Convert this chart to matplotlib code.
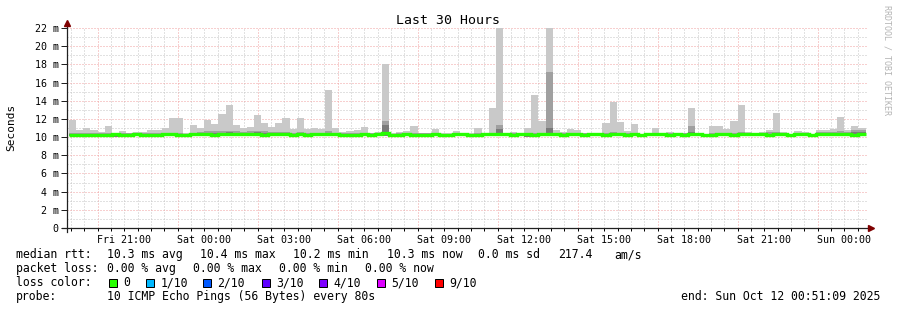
import matplotlib
matplotlib.use("Agg")
import matplotlib.pyplot as plt
import numpy as np
from matplotlib.patches import Rectangle

W, H = 897, 310
plt.rcParams["font.family"] = ["DejaVu Sans Mono", "DejaVu Sans"]

# time axis in hours relative to Sat 00:00
T_START = -(5 + 8 / 60 + 51 / 3600)   # Fri 18:51:09
T_END = 24 + 51 / 60 + 9 / 3600       # Sun 00:51:09
FIRST_BAR = -(5 + 4 / 60)             # first 16 min consolidation step, Fri 18:56
STEP = 16 / 60

# smoke envelope per 16 min step (ms)
rtt_max = [
    11.9, 10.8, 11.0, 10.8, 10.6, 11.2, 10.5, 10.7, 10.5, 10.6,
    10.6, 10.8, 10.8, 11.0, 12.1, 12.1, 10.4, 11.3, 11.0, 11.9,
    11.4, 12.5, 13.5, 11.3, 11.0, 11.1, 12.4, 11.5, 11.1, 11.6,
    12.1, 10.9, 12.1, 10.9, 11.0, 10.9, 15.2, 11.0, 10.6, 10.7,
    10.8, 11.1, 10.5, 10.6, 18.0, 10.4, 10.6, 10.7, 11.2, 10.5,
    10.5, 10.9, 10.4, 10.4, 10.7, 10.5, 10.4, 11.0, 10.5, 13.2,
    22.5, 10.5, 10.6, 10.5, 11.0, 14.6, 11.8, 22.5, 10.8, 10.6,
    10.9, 10.8, 10.5, 10.4, 10.5, 11.6, 13.9, 11.7, 10.7, 11.4,
    10.3, 10.5, 11.0, 10.4, 10.6, 10.5, 10.5, 13.2, 10.4, 10.3,
    11.25, 11.25, 10.9, 11.8, 13.5, 10.6, 10.4, 10.6, 10.8, 12.7,
    10.6, 10.3, 10.7, 10.6, 10.3, 10.8, 10.8, 10.9, 12.25, 10.8,
    11.2, 11.0,
]
rtt_hi2 = [
    10.45, 10.5, 10.45, 10.45, 10.4, 10.45, 10.4, 10.4, 10.4, 10.45,
    10.45, 10.4, 10.4, 10.5, 10.5, 10.5, 10.35, 10.5, 10.6, 10.65,
    10.65, 10.65, 10.7, 10.65, 10.6, 10.65, 10.7, 10.65, 10.55, 10.6,
    10.6, 10.5, 10.55, 10.45, 10.5, 10.45, 10.7, 10.5, 10.4, 10.45,
    10.45, 10.5, 10.4, 10.45, 11.8, 10.35, 10.45, 10.45, 10.5, 10.4,
    10.4, 10.5, 10.35, 10.35, 10.45, 10.45, 10.35, 10.45, 10.4, 10.5,
    11.3, 10.4, 10.45, 10.4, 10.45, 10.5, 10.5, 17.2, 10.5, 10.45,
    10.5, 10.5, 10.4, 10.35, 10.4, 10.5, 10.55, 10.5, 10.45, 10.5,
    10.3, 10.4, 10.5, 10.35, 10.4, 10.4, 10.4, 11.25, 10.35, 10.3,
    10.5, 10.5, 10.45, 10.5, 10.55, 10.45, 10.4, 10.45, 10.55, 10.6,
    10.45, 10.3, 10.45, 10.45, 10.3, 10.55, 10.55, 10.6, 10.65, 10.6,
    10.8, 10.75,
]
rtt_hi3 = [
    10.3, 10.3, 10.3, 10.3, 10.3, 10.35, 10.3, 10.3, 10.3, 10.35,
    10.3, 10.3, 10.3, 10.4, 10.4, 10.35, 10.3, 10.35, 10.45, 10.5,
    10.5, 10.5, 10.55, 10.5, 10.45, 10.5, 10.55, 10.5, 10.4, 10.45,
    10.45, 10.35, 10.4, 10.35, 10.4, 10.35, 10.5, 10.35, 10.3, 10.3,
    10.3, 10.35, 10.3, 10.35, 11.3, 10.3, 10.3, 10.35, 10.35, 10.3,
    10.3, 10.35, 10.3, 10.3, 10.35, 10.4, 10.3, 10.3, 10.35, 10.35,
    10.9, 10.35, 10.3, 10.35, 10.35, 10.3, 10.35, 11.0, 10.35, 10.3,
    10.35, 10.35, 10.3, 10.35, 10.35, 10.3, 10.35, 10.35, 10.3, 10.35,
    10.3, 10.35, 10.35, 10.35, 10.3, 10.35, 10.3, 10.6, 10.35, 10.3,
    10.3, 10.35, 10.35, 10.3, 10.35, 10.35, 10.4, 10.35, 10.35, 10.4,
    10.35, 10.3, 10.35, 10.35, 10.3, 10.4, 10.4, 10.45, 10.5, 10.45,
    10.6, 10.55,
]
rtt_min = [
    10.1, 10.1, 10.05, 10.1, 10.1, 10.1, 10.05, 10.1, 10.1, 10.1,
    10.1, 10.05, 10.1, 10.1, 10.1, 10.1, 10.1, 10.1, 10.1, 10.1,
    10.1, 10.1, 10.1, 10.1, 10.1, 10.1, 10.1, 10.05, 10.1, 10.1,
    10.1, 10.1, 10.1, 10.05, 10.1, 10.1, 10.1, 10.1, 10.1, 10.1,
    10.05, 10.1, 10.1, 10.1, 10.1, 10.05, 10.1, 10.1, 10.1, 10.1,
    10.1, 10.1, 10.05, 10.1, 10.1, 10.1, 10.1, 10.1, 10.1, 10.1,
    10.1, 10.1, 10.1, 10.1, 10.05, 10.1, 10.1, 10.1, 10.1, 10.1,
    10.1, 10.1, 10.05, 10.1, 10.1, 10.1, 10.1, 10.1, 10.1, 10.1,
    10.05, 10.1, 10.1, 10.1, 10.05, 10.1, 10.1, 10.1, 10.1, 10.05,
    10.1, 10.1, 10.1, 10.1, 10.1, 10.1, 10.1, 10.1, 10.1, 10.1,
    10.1, 10.05, 10.1, 10.1, 10.05, 10.1, 10.1, 10.1, 10.1, 10.1,
    10.1, 10.1,
]
rtt_median = [
    10.2, 10.25, 10.25, 10.2, 10.25, 10.25, 10.3, 10.25, 10.25, 10.3,
    10.25, 10.2, 10.25, 10.35, 10.3, 10.25, 10.25, 10.3, 10.35, 10.3,
    10.25, 10.3, 10.3, 10.35, 10.3, 10.3, 10.3, 10.25, 10.3, 10.3,
    10.3, 10.25, 10.3, 10.25, 10.35, 10.3, 10.3, 10.3, 10.25, 10.25,
    10.25, 10.3, 10.25, 10.3, 10.45, 10.25, 10.25, 10.3, 10.25, 10.25,
    10.25, 10.3, 10.25, 10.25, 10.3, 10.35, 10.25, 10.25, 10.3, 10.3,
    10.3, 10.3, 10.25, 10.3, 10.3, 10.25, 10.3, 10.3, 10.3, 10.25,
    10.3, 10.3, 10.25, 10.3, 10.3, 10.25, 10.3, 10.3, 10.25, 10.3,
    10.25, 10.3, 10.3, 10.3, 10.2, 10.3, 10.25, 10.3, 10.3, 10.25,
    10.25, 10.3, 10.3, 10.25, 10.3, 10.3, 10.35, 10.3, 10.25, 10.3,
    10.3, 10.25, 10.3, 10.3, 10.25, 10.3, 10.3, 10.35, 10.3, 10.3,
    10.25, 10.3,
]

x_tick_hours = [-3, 0, 3, 6, 9, 12, 15, 18, 21, 24]
x_tick_labels = ["Fri 21:00", "Sat 00:00", "Sat 03:00", "Sat 06:00", "Sat 09:00",
                 "Sat 12:00", "Sat 15:00", "Sat 18:00", "Sat 21:00", "Sun 00:00"]
y_ticks = [0, 2, 4, 6, 8, 10, 12, 14, 16, 18, 20, 22]
y_tick_labels = ["0"] + [f"{v} m" for v in y_ticks[1:]]

loss_labels = ["0", "1/10", "2/10", "3/10", "4/10", "5/10", "9/10"]
loss_colors = ["#26ff00", "#00b8ff", "#0059ff", "#5e00ff", "#7e00ff", "#dd00ff", "#ff0000"]
median_stats = [10.3, 10.4, 10.2, 10.3]
median_sd = 0.0
median_ams = 217.4
loss_stats = [0.00, 0.00, 0.00, 0.00]

GRID = "#c4c4c4"
MGRID = "#f0a0a0"
AXIS = "#202020"
ARROW = "#7f0000"

fig = plt.figure(figsize=(W / 100, H / 100), dpi=100)
fig.patch.set_facecolor("white")
ax = fig.add_axes([67 / W, 82 / H, 800 / W, 200 / H])
ax.set_xlim(T_START, T_END)
ax.set_ylim(0, 22)
for s in ax.spines.values():
    s.set_visible(False)

# ---- grid (dotted, under the smoke) ----
dot = (0, (1, 2))
for h in np.arange(-5, 25, 0.5):
    major = (h - 2) % 3 == 0
    ax.axvline(h, color=MGRID if major else GRID, ls=dot, lw=0.72, zorder=0)
for v in range(1, 23):
    ax.axhline(v, color=MGRID if v % 2 == 0 else GRID, ls=dot, lw=0.72, zorder=0)

# ---- smoke + median ----
edges = FIRST_BAR + STEP * np.arange(len(rtt_max) + 1)
ax.stairs(rtt_max, edges, baseline=rtt_min, fill=True, color="#c9c9c9", lw=0, zorder=2)
ax.stairs(rtt_hi2, edges, baseline=rtt_min, fill=True, color="#a0a0a0", lw=0, zorder=3)
ax.stairs(rtt_hi3, edges, baseline=rtt_min, fill=True, color="#7a7a7a", lw=0, zorder=4)
ax.stairs(rtt_median, edges, baseline=None, color=loss_colors[0], lw=2.4, zorder=5)

# ---- axes ----
ax.plot([-5 / 800, 1 + 2 / 800], [0, 0], transform=ax.transAxes, color=AXIS,
        lw=0.9, clip_on=False, zorder=6)
ax.plot([0, 0], [-4 / 200, 1 + 4 / 200], transform=ax.transAxes, color=AXIS,
        lw=0.9, clip_on=False, zorder=6)
ax.plot([1 + 4 / 800], [0], transform=ax.transAxes, marker=">", ms=4,
        color=ARROW, clip_on=False, zorder=7)
ax.plot([0], [1 + 5 / 200], transform=ax.transAxes, marker="^", ms=4,
        color=ARROW, clip_on=False, zorder=7)

ax.set_yticks(y_ticks)
ax.set_yticklabels(y_tick_labels, fontsize=7.2)
ax.tick_params(axis="y", direction="out", length=4, width=0.72, color=AXIS, pad=2)

ax.set_xticks(x_tick_hours)
ax.set_xticklabels(x_tick_labels, fontsize=7.2)
ax.tick_params(axis="x", which="major", length=0, pad=5)
ax.xaxis.remove_overlapping_locs = False
minor = np.arange(-5, 25, 0.5)
ax.set_xticks(minor, minor=True)
ax.tick_params(axis="x", which="minor", direction="out", length=2, width=0.72)
for t, h in zip(ax.xaxis.get_minor_ticks(), minor):
    t.tick1line.set_color(MGRID if (h - 2) % 3 == 0 else GRID)


def ftxt(x, y, s, **kw):
    fig.text(x / W, 1 - y / H, s, **kw)


ftxt(448, 24, "Last 30 Hours", ha="center", va="baseline", fontsize=9.5)
ftxt(11, 127, "Seconds", rotation=90, ha="center", va="center", fontsize=8)
ftxt(887, 5, "RRDTOOL / TOBI OETIKER", rotation=270, ha="center", va="top",
     fontsize=6, color="#b4b4b4")

FS = 8.3
# line 1
ftxt(16, 258, "median rtt:", fontsize=FS, va="baseline")
for x, v, lab in zip([107, 200, 293, 387], median_stats, ["avg", "max", "min", "now"]):
    ftxt(x, 258, f"{v:.1f} ms {lab}", fontsize=FS, va="baseline")
ftxt(478, 258, f"{median_sd:.1f} ms sd", fontsize=FS, va="baseline")
ftxt(558, 258, f"{median_ams:.1f}", fontsize=FS, va="baseline")
ftxt(614, 258, "am/s", fontsize=FS, va="baseline")
# line 2
ftxt(16, 272, "packet loss:", fontsize=FS, va="baseline")
for x, v, lab in zip([107, 193, 279, 365], loss_stats, ["avg", "max", "min", "now"]):
    ftxt(x, 272, f"{v:.2f} % {lab}", fontsize=FS, va="baseline")
# line 3
ftxt(16, 286, "loss color:", fontsize=FS, va="baseline")
box_x = [109, 146, 203, 262, 319, 377, 435]
for bx, c, lab in zip(box_x, loss_colors, loss_labels):
    fig.patches.append(Rectangle((bx / W, 1 - 286.5 / H), 8 / W, 8 / H,
                                 transform=fig.transFigure, facecolor=c,
                                 edgecolor="black", lw=0.72))
    ftxt(bx + 14.5, 286, lab, fontsize=FS, va="baseline")
# line 4
ftxt(16, 300, "probe:", fontsize=FS, va="baseline")
ftxt(107, 300, "10 ICMP Echo Pings (56 Bytes) every 80s", fontsize=FS, va="baseline")
ftxt(880, 300, "end: Sun Oct 12 00:51:09 2025", fontsize=FS, va="baseline", ha="right")

fig.savefig("out.png", dpi=100, facecolor="white")
